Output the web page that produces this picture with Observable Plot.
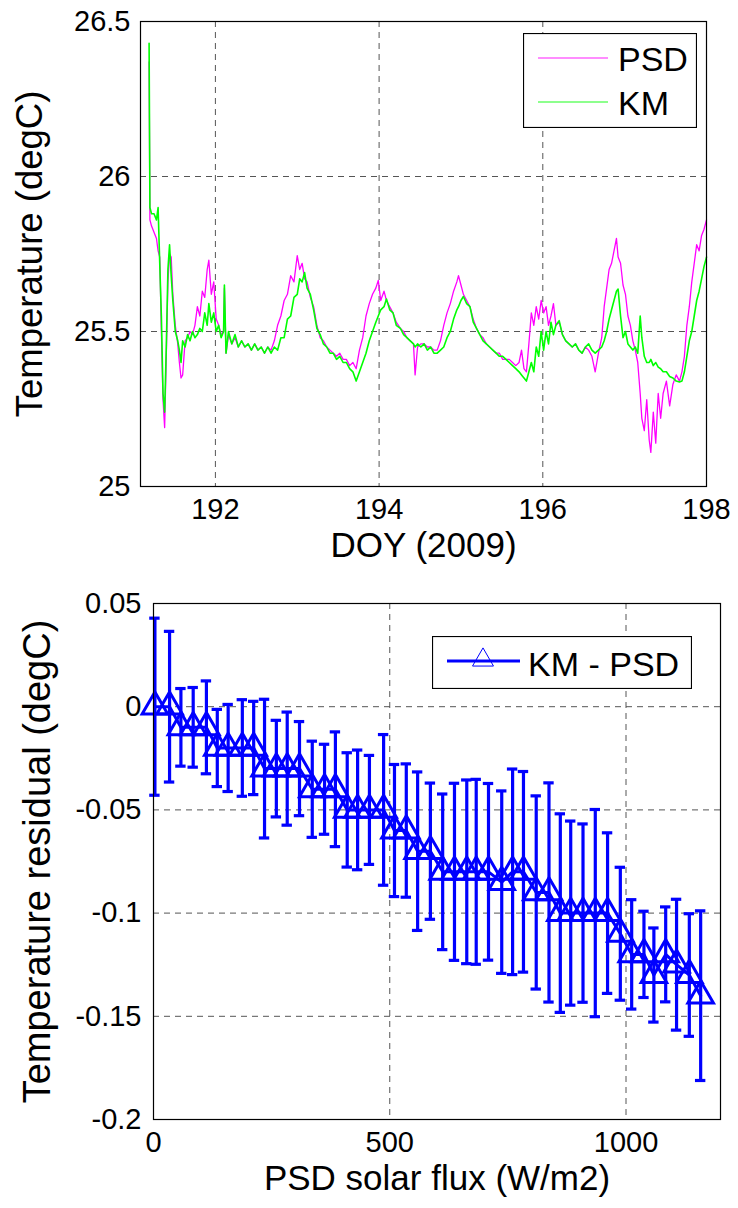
<!DOCTYPE html>
<html>
<head>
<meta charset="utf-8">
<script src="https://cdn.jsdelivr.net/npm/d3@7"></script>
<script src="https://cdn.jsdelivr.net/npm/@observablehq/plot@0.6"></script>
<style>
  html, body { margin: 0; padding: 0; background: #fff; }
  #wrap { position: relative; width: 738px; height: 1208px; font-family: "Liberation Sans", Arial, Helvetica, sans-serif; }
  .panel { position: absolute; left: 0; }
  .legend { position: absolute; }
</style>
</head>
<body>
<div id="wrap">
  <div id="topPanel" class="panel" style="top:0"></div>
  <div id="bottomPanel" class="panel" style="top:570px"></div>
</div>
<script>
// ---------- Top panel data: temperature time series ----------
const doy = [191.19,191.20,191.22,191.25,191.28,191.30,191.32,191.34,191.36,191.38,191.40,191.42,191.44,191.46,191.48,191.51,191.54,191.56,191.58,191.60,191.63,191.66,191.69,191.72,191.75,191.78,191.81,191.84,191.87,191.90,191.92,191.95,191.98,192.01,192.04,192.07,192.10,192.11,192.13,192.16,192.20,192.24,192.28,192.32,192.36,192.40,192.44,192.48,192.52,192.56,192.60,192.64,192.68,192.72,192.76,192.80,192.84,192.88,192.92,192.96,193.00,193.03,193.06,193.09,193.12,193.16,193.20,193.24,193.28,193.32,193.36,193.40,193.44,193.48,193.52,193.56,193.60,193.64,193.68,193.72,193.76,193.80,193.84,193.88,193.92,193.96,193.99,194.02,194.06,194.09,194.13,194.17,194.21,194.26,194.30,194.34,194.38,194.42,194.44,194.47,194.51,194.55,194.59,194.63,194.67,194.71,194.75,194.79,194.83,194.87,194.91,194.95,194.97,195.00,195.03,195.07,195.11,195.15,195.19,195.23,195.27,195.31,195.35,195.39,195.43,195.47,195.51,195.55,195.59,195.63,195.67,195.71,195.74,195.77,195.80,195.83,195.86,195.89,195.92,195.95,195.98,196.01,196.04,196.07,196.10,196.13,196.16,196.20,196.24,196.28,196.32,196.36,196.40,196.44,196.48,196.52,196.56,196.60,196.64,196.68,196.72,196.75,196.78,196.81,196.84,196.87,196.90,196.92,196.95,196.98,197.01,197.04,197.07,197.10,197.13,197.16,197.19,197.21,197.24,197.27,197.30,197.32,197.35,197.38,197.41,197.44,197.47,197.51,197.55,197.59,197.63,197.67,197.70,197.73,197.76,197.79,197.82,197.85,197.88,197.91,197.94,197.97,198.00];
const km  = [26.43,25.90,25.88,25.88,25.86,25.90,25.72,25.55,25.30,25.24,25.45,25.70,25.78,25.68,25.60,25.50,25.47,25.44,25.40,25.47,25.45,25.49,25.47,25.50,25.48,25.49,25.51,25.50,25.56,25.52,25.59,25.53,25.56,25.50,25.52,25.48,25.50,25.65,25.43,25.50,25.46,25.49,25.45,25.47,25.45,25.46,25.44,25.46,25.44,25.45,25.43,25.45,25.43,25.45,25.44,25.48,25.48,25.54,25.55,25.61,25.62,25.67,25.66,25.69,25.64,25.62,25.57,25.51,25.49,25.46,25.45,25.43,25.43,25.41,25.42,25.40,25.40,25.38,25.37,25.34,25.37,25.40,25.43,25.47,25.50,25.53,25.55,25.57,25.58,25.605,25.57,25.56,25.52,25.51,25.49,25.48,25.47,25.46,25.45,25.46,25.45,25.46,25.44,25.45,25.43,25.43,25.44,25.45,25.48,25.50,25.54,25.57,25.58,25.60,25.613,25.59,25.58,25.53,25.51,25.49,25.47,25.46,25.45,25.44,25.43,25.42,25.42,25.41,25.40,25.39,25.38,25.37,25.36,25.35,25.34,25.37,25.40,25.37,25.45,25.42,25.50,25.44,25.50,25.46,25.53,25.49,25.52,25.535,25.49,25.47,25.46,25.45,25.46,25.44,25.43,25.45,25.46,25.44,25.43,25.44,25.45,25.47,25.50,25.54,25.57,25.60,25.63,25.637,25.55,25.48,25.50,25.46,25.45,25.44,25.45,25.43,25.55,25.48,25.42,25.40,25.40,25.41,25.39,25.40,25.385,25.38,25.37,25.37,25.355,25.35,25.34,25.337,25.34,25.37,25.42,25.47,25.50,25.55,25.60,25.63,25.67,25.71,25.74];
const psd = [26.37,25.86,25.84,25.82,25.80,25.76,25.74,25.50,25.28,25.19,25.42,25.66,25.75,25.74,25.62,25.52,25.46,25.40,25.35,25.36,25.47,25.48,25.50,25.49,25.52,25.58,25.55,25.63,25.61,25.70,25.73,25.62,25.66,25.54,25.52,25.49,25.50,25.64,25.43,25.49,25.46,25.48,25.45,25.47,25.45,25.46,25.44,25.46,25.44,25.45,25.43,25.45,25.44,25.47,25.52,25.55,25.60,25.62,25.68,25.66,25.745,25.70,25.72,25.67,25.66,25.61,25.58,25.52,25.48,25.47,25.45,25.44,25.43,25.42,25.43,25.41,25.41,25.39,25.40,25.38,25.44,25.48,25.55,25.59,25.62,25.64,25.665,25.60,25.63,25.60,25.58,25.56,25.53,25.51,25.50,25.48,25.47,25.46,25.36,25.45,25.46,25.46,25.45,25.45,25.44,25.44,25.47,25.52,25.56,25.59,25.63,25.66,25.68,25.65,25.62,25.60,25.58,25.54,25.51,25.49,25.48,25.46,25.45,25.44,25.43,25.43,25.41,25.41,25.41,25.40,25.39,25.40,25.44,25.38,25.37,25.46,25.56,25.52,25.58,25.54,25.60,25.56,25.58,25.52,25.55,25.59,25.52,25.53,25.49,25.47,25.46,25.45,25.46,25.44,25.43,25.45,25.44,25.42,25.37,25.43,25.48,25.58,25.64,25.70,25.72,25.76,25.80,25.74,25.72,25.65,25.62,25.55,25.52,25.47,25.44,25.40,25.30,25.22,25.18,25.28,25.15,25.11,25.24,25.14,25.30,25.22,25.30,25.34,25.26,25.33,25.36,25.34,25.37,25.42,25.52,25.58,25.66,25.72,25.78,25.76,25.81,25.83,25.86];
const doyTicks = [192, 194, 196, 198];
const tempTicks = [25, 25.5, 26, 26.5];

// ---------- Bottom panel data: residual vs solar flux ----------
const flux = [3,34,58,84,112,135,158,188,212,235,260,283,309,336,362,385,410,432,457,487,510,535,559,586,612,637,663,683,709,737,760,783,810,837,861,883,909,935,961,988,1012,1038,1059,1084,1107,1134,1158];
const residual = [0,0,-0.01,-0.01,-0.01,-0.02,-0.02,-0.02,-0.02,-0.03,-0.03,-0.03,-0.03,-0.04,-0.04,-0.04,-0.05,-0.05,-0.05,-0.05,-0.06,-0.06,-0.07,-0.07,-0.08,-0.08,-0.08,-0.08,-0.08,-0.085,-0.08,-0.08,-0.09,-0.09,-0.10,-0.10,-0.10,-0.10,-0.10,-0.11,-0.12,-0.12,-0.13,-0.12,-0.125,-0.13,-0.14];
const spread = [0.0429,0.0365,0.0188,0.0193,0.0225,0.0187,0.0211,0.0234,0.0226,0.0336,0.0234,0.0274,0.0228,0.0233,0.0218,0.0278,0.0277,0.0290,0.0264,0.0365,0.0320,0.0323,0.0384,0.0330,0.0377,0.0429,0.0445,0.0448,0.0428,0.0442,0.0498,0.0486,0.0468,0.0531,0.0481,0.0446,0.0432,0.0502,0.0389,0.0322,0.0265,0.0209,0.0228,0.0230,0.0317,0.0297,0.0411];
const fluxTicks = [0, 500, 1000];
const residTicks = [0.05, 0, -0.05, -0.1, -0.15, -0.2];

const FONT = "'Liberation Sans', Arial, Helvetica, sans-serif";
const MAGENTA = "#ff00ff", GREEN = "#00ff00", BLUE = "#0000ff";
const gridStyle = {stroke: "#555", strokeOpacity: 1, strokeWidth: 1, strokeDasharray: "6,5"};

// ---------- Top chart ----------
const psdRows = doy.map((d, i) => ({doy: d, t: psd[i]}));
const kmRows = doy.map((d, i) => ({doy: d, t: km[i]}));

const topChart = Plot.plot({
  width: 738, height: 570,
  marginTop: 21, marginBottom: 84, marginLeft: 140, marginRight: 32,
  style: {fontFamily: FONT, fontSize: "29px", background: "#fff", color: "#000", overflow: "visible"},
  x: {domain: [191.085, 198], ticks: doyTicks},
  y: {domain: [25, 26.5], ticks: tempTicks},
  marks: [
    Plot.gridX(doyTicks, gridStyle),
    Plot.gridY(tempTicks, gridStyle),
    Plot.line(psdRows, {x: "doy", y: "t", stroke: MAGENTA, strokeWidth: 1.3}),
    Plot.line(kmRows, {x: "doy", y: "t", stroke: GREEN, strokeWidth: 1.6}),
    Plot.frame({stroke: "#000", strokeWidth: 1.2}),
    Plot.axisX({ticks: doyTicks, tickSize: 0, tickPadding: 12, label: null, tickFormat: d => String(d)}),
    Plot.axisY({ticks: tempTicks, tickSize: 0, tickPadding: 10, label: null, tickFormat: d => String(d)}),
    Plot.text(["DOY (2009)"], {frameAnchor: "bottom", textAnchor: "middle", dy: 70, fontSize: 35, fill: "#000"}),
    Plot.text(["Temperature (degC)"], {frameAnchor: "left", textAnchor: "middle", rotate: -90, dx: -110, fontSize: 36.5, fill: "#000"})
  ]
});
document.getElementById("topPanel").appendChild(topChart);

// ---------- Bottom chart ----------
const rows = flux.map((f, i) => ({flux: f, r: residual[i], lo: residual[i] - spread[i], hi: residual[i] + spread[i]}));
const CAP = 11; // half cap width in flux units
const bottomChart = Plot.plot({
  width: 738, height: 638,
  marginTop: 33, marginBottom: 89, marginLeft: 153, marginRight: 18,
  style: {fontFamily: FONT, fontSize: "29px", background: "#fff", color: "#000", overflow: "visible"},
  x: {domain: [0, 1200], ticks: fluxTicks},
  y: {domain: [-0.2, 0.05], ticks: residTicks},
  marks: [
    Plot.gridX(fluxTicks.filter(d => d > 0), gridStyle),
    Plot.gridY(residTicks.filter(d => d > -0.2 && d < 0.05), gridStyle),
    Plot.ruleX(rows, {x: "flux", y1: "lo", y2: "hi", stroke: BLUE, strokeWidth: 3.2}),
    Plot.ruleY(rows, {y: "lo", x1: d => d.flux - CAP, x2: d => d.flux + CAP, stroke: BLUE, strokeWidth: 3.2}),
    Plot.ruleY(rows, {y: "hi", x1: d => d.flux - CAP, x2: d => d.flux + CAP, stroke: BLUE, strokeWidth: 3.2}),
    Plot.line(rows, {x: "flux", y: "r", stroke: BLUE, strokeWidth: 3}),
    Plot.dot(rows, {x: "flux", y: "r", symbol: "triangle", r: 9.5, stroke: BLUE, fill: "none", strokeWidth: 3}),
    Plot.frame({stroke: "#000", strokeWidth: 1.2}),
    Plot.axisX({ticks: fluxTicks, tickSize: 0, tickPadding: 12, label: null, tickFormat: d => String(d)}),
    Plot.axisY({ticks: residTicks, tickSize: 0, tickPadding: 12, label: null, tickFormat: d => String(d)}),
    Plot.text(["PSD solar flux (W/m2)"], {frameAnchor: "bottom", textAnchor: "middle", dy: 70, fontSize: 35, fill: "#000"}),
    Plot.text(["Temperature residual (degC)"], {frameAnchor: "left", textAnchor: "middle", rotate: -90, dx: -116, fontSize: 38, fill: "#000"})
  ]
});
document.getElementById("bottomPanel").appendChild(bottomChart);

// ---------- Legends ----------
const wrap = document.getElementById("wrap");
function legend(left, topPx, w, h, items) {
  const svg = d3.create("svg").attr("class", "legend").attr("width", w).attr("height", h)
    .style("left", left + "px").style("top", topPx + "px").style("position", "absolute");
  svg.append("rect").attr("x", 0.5).attr("y", 0.5).attr("width", w - 1).attr("height", h - 1)
    .attr("fill", "#fff").attr("stroke", "#000").attr("stroke-width", 1.2);
  items(svg);
  wrap.appendChild(svg.node());
}
legend(523, 33, 174, 95, svg => {
  [["PSD", MAGENTA, 25], ["KM", GREEN, 69]].forEach(([name, col, y]) => {
    svg.append("line").attr("x1", 15).attr("x2", 85).attr("y1", y).attr("y2", y)
      .attr("stroke", col).attr("stroke-width", 1.5).attr("stroke-opacity", 0.6);
    svg.append("text").attr("x", 95).attr("y", y + 13).attr("font-family", FONT)
      .attr("font-size", 34).attr("fill", "#000").text(name);
  });
});
legend(432, 636, 260, 53, svg => {
  svg.append("line").attr("x1", 15).attr("x2", 88).attr("y1", 25).attr("y2", 25)
    .attr("stroke", BLUE).attr("stroke-width", 3);
  svg.append("path").attr("d", d3.symbol(d3.symbolTriangle, 190)()).attr("transform", "translate(51,24)")
    .attr("fill", "none").attr("stroke", BLUE).attr("stroke-width", 1);
  svg.append("text").attr("x", 96).attr("y", 40).attr("font-family", FONT)
    .attr("font-size", 34).attr("fill", "#000").text("KM - PSD");
});
</script>
</body>
</html>
